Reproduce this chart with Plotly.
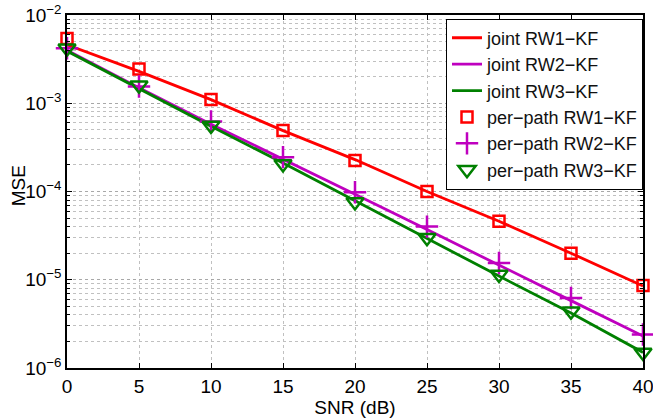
import plotly.graph_objects as go

snr = [0, 5, 10, 15, 20, 25, 30, 35, 40]

joint_rw1 = [4.6e-3, 2.3e-3, 1.1e-3, 4.9e-4, 2.3e-4, 1.0e-4, 4.6e-5, 2.0e-5, 8.5e-6]
joint_rw2 = [4.0e-3, 1.5e-3, 5.8e-4, 2.3e-4, 9.3e-5, 3.7e-5, 1.45e-5, 5.8e-6, 2.3e-6]
joint_rw3 = [3.9e-3, 1.45e-3, 5.5e-4, 2.1e-4, 7.8e-5, 2.9e-5, 1.1e-5, 4.2e-6, 1.5e-6]

pp_rw1 = [5.4e-3, 2.45e-3, 1.1e-3, 4.9e-4, 2.25e-4, 1.0e-4, 4.6e-5, 2.0e-5, 8.6e-6]
pp_rw2 = [4.2e-3, 1.55e-3, 6.2e-4, 2.45e-4, 9.8e-5, 4.0e-5, 1.55e-5, 6.2e-6, 2.4e-6]
pp_rw3 = [4.2e-3, 1.6e-3, 5.6e-4, 2.05e-4, 7.6e-5, 3.0e-5, 1.15e-5, 4.4e-6, 1.5e-6]

ytick_vals = [1e-6, 1e-5, 1e-4, 1e-3, 1e-2]
ytick_text = ["10<sup>\u22126</sup>", "10<sup>\u22125</sup>", "10<sup>\u22124</sup>",
              "10<sup>\u22123</sup>", "10<sup>\u22122</sup>"]
xtick_vals = [0, 5, 10, 15, 20, 25, 30, 35, 40]

RED = "#ff0000"
MAG = "#bf00bf"
GRN = "#008000"
FONT = "Liberation Sans, Arial, sans-serif"

fig = go.Figure()
for name, y, c in [("joint RW1\u2212KF", joint_rw1, RED),
                   ("joint RW2\u2212KF", joint_rw2, MAG),
                   ("joint RW3\u2212KF", joint_rw3, GRN)]:
    fig.add_trace(go.Scatter(x=snr, y=y, mode="lines", name=name,
                             line=dict(color=c, width=2.8)))

for name, y, c, sym, sz in [("per\u2212path RW1\u2212KF", pp_rw1, RED, "square-open", 11),
                            ("per\u2212path RW2\u2212KF", pp_rw2, MAG, "cross-thin-open", 16),
                            ("per\u2212path RW3\u2212KF", pp_rw3, GRN, "triangle-down-open", 15)]:
    fig.add_trace(go.Scatter(x=snr, y=y, mode="markers", name=name, cliponaxis=False,
                             marker=dict(symbol=sym, size=sz, color=c,
                                         line=dict(color=c, width=2.5))))

axis_common = dict(showline=True, linecolor="black", linewidth=1.5, mirror="allticks",
                   ticks="inside", ticklen=5, tickcolor="black", automargin=False,
                   ticklabeloverflow="allow",
                   tickfont=dict(family=FONT, size=19, color="black"),
                   zeroline=False)

fig.update_xaxes(range=[0, 40], tickvals=xtick_vals,
                 showgrid=True, gridcolor="#c0c0c0", griddash="dot", gridwidth=1,
                 title=dict(text="SNR (dB)", standoff=0,
                            font=dict(family=FONT, size=19, color="black")),
                 **axis_common)
fig.update_yaxes(type="log", range=[-6, -2], tickvals=ytick_vals, ticktext=ytick_text,
                 showgrid=True, gridcolor="#a8a8a8", griddash="dot", gridwidth=1,
                 minor=dict(showgrid=True, gridcolor="#c0c0c0", griddash="dot",
                            ticks="inside", ticklen=3, tickcolor="black",
                            tickvals=[m * 10 ** e for e in range(-6, -2) for m in range(2, 10)]),
                 **axis_common)

fig.add_annotation(text="MSE", xref="paper", yref="paper", x=-0.085, y=0.515,
                   xanchor="center", yanchor="middle", textangle=-90, showarrow=False,
                   font=dict(family=FONT, size=19, color="black"))

fig.update_layout(
    width=653, height=418,
    margin=dict(l=67, r=10, t=15, b=50),
    paper_bgcolor="white", plot_bgcolor="white",
    font=dict(family=FONT, size=19, color="black"),
    legend=dict(x=1, y=0.99, xanchor="right", yanchor="top",
                bgcolor="white", bordercolor="black", borderwidth=1,
                font=dict(family=FONT, size=18, color="#111111"),
                tracegroupgap=0, itemwidth=30),
    showlegend=True,
)

# remove the page's default 8px body margin so the figure fills the window exactly
fig.write_html("out.html", config={"displayModeBar": False},
               post_script="document.body.style.margin='0';")
